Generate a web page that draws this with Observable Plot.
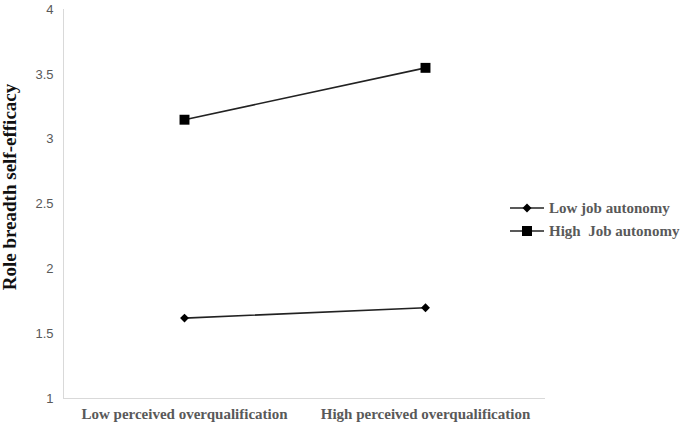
<!DOCTYPE html>
<html><head><meta charset="utf-8">
<script src="https://cdn.jsdelivr.net/npm/d3@7"></script>
<script src="https://cdn.jsdelivr.net/npm/@observablehq/plot@0.6"></script>
<style>
html,body{margin:0;padding:0;background:#fff;}
#wrap{position:relative;width:685px;height:428px;}
</style>
</head><body>
<div id="wrap"><div id="chart"></div></div>
<script>
const categories = ["Low perceived overqualification", "High perceived overqualification"];
const series = ["Low job autonomy", "High  Job autonomy"];
const lowAutonomy = [1.62, 1.70];
const highAutonomy = [3.15, 3.55];
const yTicks = [1, 1.5, 2, 2.5, 3, 3.5, 4];

const data = [
  ...categories.map((c, i) => ({cat: c, v: lowAutonomy[i], s: series[0]})),
  ...categories.map((c, i) => ({cat: c, v: highAutonomy[i], s: series[1]}))
];

const plot = Plot.plot({
  width: 685, height: 428,
  marginLeft: 63, marginRight: 140, marginTop: 9, marginBottom: 30,
  style: {background: "#fff", overflow: "visible"},
  x: {type: "point", domain: categories, padding: 0.5, label: null},
  y: {domain: [1, 4], ticks: yTicks, label: null},
  marks: [
    Plot.ruleY([1], {stroke: "#d9d9d9", strokeWidth: 1}),
    Plot.axisY({ticks: yTicks, tickSize: 0, tickPadding: 10, tickFormat: d => String(d), fontFamily: "Liberation Sans, sans-serif", fontSize: 13, fill: "#595959", label: null}),
    Plot.axisX({tickSize: 0, tickPadding: 10, fontFamily: "Liberation Serif, serif", fontWeight: "bold", fontSize: 15, fill: "#595959", label: null}),
    Plot.lineY(data, {x: "cat", y: "v", z: "s", stroke: "#222", strokeWidth: 1.6}),
    Plot.dot(data.filter(d => d.s === series[0]), {x: "cat", y: "v", symbol: "diamond2", r: 4, fill: "#000", stroke: "none"}),
    Plot.dot(data.filter(d => d.s === series[1]), {x: "cat", y: "v", symbol: "square", r: 5.6, fill: "#000", stroke: "none"})
  ]
});
document.getElementById("chart").appendChild(plot);

const svg = d3.select(plot);
// y-axis line
svg.append("line").attr("x1", 63.5).attr("x2", 63.5).attr("y1", 9).attr("y2", 398)
  .attr("stroke", "#d9d9d9");
// y-axis title
svg.append("text")
  .attr("transform", "translate(16,187) rotate(-90)")
  .attr("text-anchor", "middle")
  .attr("font-family", "Liberation Serif, serif")
  .attr("font-weight", "bold").attr("font-size", 19).attr("fill", "#111")
  .text("Role breadth self-efficacy");

// legend
const legY = [208, 231];
series.forEach((s, i) => {
  const g = svg.append("g").attr("transform", `translate(0,${legY[i]})`);
  g.append("line").attr("x1", 510).attr("x2", 544).attr("y1", 0).attr("y2", 0)
    .attr("stroke", "#222").attr("stroke-width", 1.6);
  if (i === 0) g.append("polygon").attr("points", "527,-4.5 531.5,0 527,4.5 522.5,0").attr("fill", "#000");
  else g.append("rect").attr("x", 522).attr("y", -5).attr("width", 10).attr("height", 10).attr("fill", "#000");
  g.append("text").attr("x", 549).attr("y", 0).attr("dy", "0.35em")
    .attr("text-anchor", "start")
    .attr("font-family", "Liberation Serif, serif").attr("font-weight", "bold")
    .attr("font-size", 15).attr("fill", "#595959").style("white-space", "pre")
    .text(s);
});
</script>
</body></html>
